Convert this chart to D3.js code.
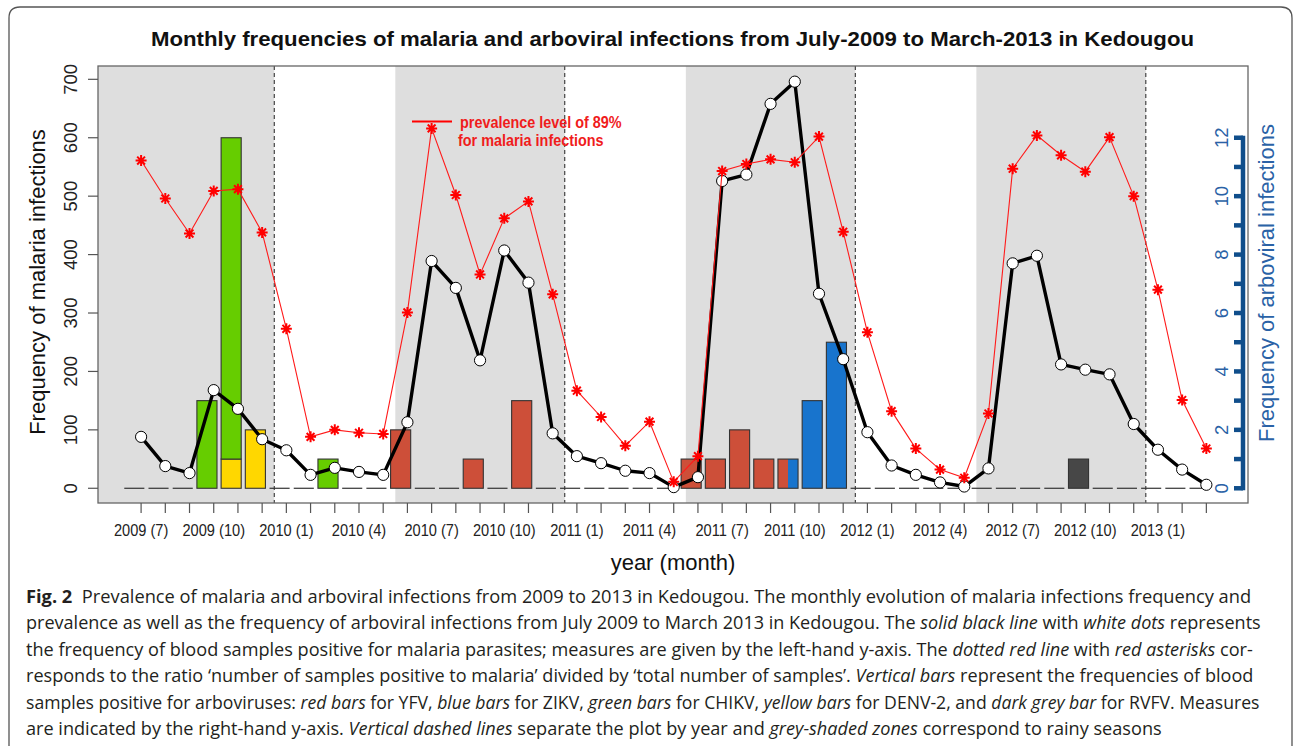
<!DOCTYPE html>
<html>
<head>
<meta charset="utf-8">
<script src="https://cdn.jsdelivr.net/npm/d3@7/dist/d3.min.js"></script>
<style>
  body { margin: 0; background: #fff; }
  svg { display: block; }
</style>
</head>
<body>
<svg id="chart" width="1295" height="746"></svg>
<script>
// ---- data ----
const months = [
  "2009 (7)", "2009 (8)", "2009 (9)", "2009 (10)", "2009 (11)", "2009 (12)",
  "2010 (1)", "2010 (2)", "2010 (3)", "2010 (4)", "2010 (5)", "2010 (6)",
  "2010 (7)", "2010 (8)", "2010 (9)", "2010 (10)", "2010 (11)", "2010 (12)",
  "2011 (1)", "2011 (2)", "2011 (3)", "2011 (4)", "2011 (5)", "2011 (6)",
  "2011 (7)", "2011 (8)", "2011 (9)", "2011 (10)", "2011 (11)", "2011 (12)",
  "2012 (1)", "2012 (2)", "2012 (3)", "2012 (4)", "2012 (5)", "2012 (6)",
  "2012 (7)", "2012 (8)", "2012 (9)", "2012 (10)", "2012 (11)", "2012 (12)",
  "2013 (1)", "2013 (2)", "2013 (3)"
];
const tickLabels = ["2009 (7)", "2009 (10)", "2010 (1)", "2010 (4)", "2010 (7)", "2010 (10)",
  "2011 (1)", "2011 (4)", "2011 (7)", "2011 (10)", "2012 (1)", "2012 (4)", "2012 (7)",
  "2012 (10)", "2013 (1)"];

// malaria positive samples (left axis)
const malaria = [88, 38, 26, 168, 136, 84, 65, 23, 35, 28, 23, 113, 389, 343, 219, 407, 352, 94,
  55, 43, 30, 26, 2, 19, 526, 537, 658, 696, 333, 221, 96, 39, 23, 10, 3, 34,
  385, 398, 212, 203, 195, 110, 66, 32, 6];
// prevalence curve (red asterisks), expressed on the left-axis scale as drawn
const prevalence = [561, 496, 436, 509, 512, 438, 273, 88, 100, 95, 93, 301, 616, 502, 366, 462, 491, 332,
  167, 122, 73, 114, 11, 55, 543, 555, 563, 558, 602, 439, 267, 132, 68, 32, 18, 128,
  547, 604, 570, 542, 601, 500, 340, 151, 68];

// arbovirus positives per month (right axis)
const yfv   = [0,0,0,0,0,0, 0,0,0,0,0,2, 0,0,1,0,3,0, 0,0,0,0,0,1, 1,2,1,1,0,0, 0,0,0,0,0,0, 0,0,0,0,0,0, 0,0,0];
const zikv  = [0,0,0,0,0,0, 0,0,0,0,0,0, 0,0,0,0,0,0, 0,0,0,0,0,0, 0,0,0,1,3,5, 0,0,0,0,0,0, 0,0,0,0,0,0, 0,0,0];
const chikv = [0,0,0,3,11,0, 0,0,1,0,0,0, 0,0,0,0,0,0, 0,0,0,0,0,0, 0,0,0,0,0,0, 0,0,0,0,0,0, 0,0,0,0,0,0, 0,0,0];
const denv2 = [0,0,0,0,1,2, 0,0,0,0,0,0, 0,0,0,0,0,0, 0,0,0,0,0,0, 0,0,0,0,0,0, 0,0,0,0,0,0, 0,0,0,0,0,0, 0,0,0];
const rvfv  = [0,0,0,0,0,0, 0,0,0,0,0,0, 0,0,0,0,0,0, 0,0,0,0,0,0, 0,0,0,0,0,0, 0,0,0,0,0,0, 0,0,0,1,0,0, 0,0,0];

// rainy seasons (first / last month shaded)
const rainySeasons = [["2009 (5)", "2009 (12)"], ["2010 (6)", "2010 (12)"], ["2011 (6)", "2011 (12)"], ["2012 (6)", "2012 (12)"]];

const leftTicks = [0, 100, 200, 300, 400, 500, 600, 700];
const rightTicks = [0, 2, 4, 6, 8, 10, 12];

const captionLines = [
  [["b", "Fig. 2"], ["n", "\u00a0 Prevalence of malaria and arboviral infections from 2009 to 2013 in Kedougou. The monthly evolution of malaria infections frequency and"]],
  [["n", "prevalence as well as the frequency of arboviral infections from July 2009 to March 2013 in Kedougou. The "], ["i", "solid black line"], ["n", " with "], ["i", "white dots"], ["n", " represents"]],
  [["n", "the frequency of blood samples positive for malaria parasites; measures are given by the left-hand y-axis. The "], ["i", "dotted red line"], ["n", " with "], ["i", "red asterisks"], ["n", " cor-"]],
  [["n", "responds to the ratio \u2018number of samples positive to malaria\u2019 divided by \u2018total number of samples\u2019. "], ["i", "Vertical bars"], ["n", " represent the frequencies of blood"]],
  [["n", "samples positive for arboviruses: "], ["i", "red bars"], ["n", " for YFV, "], ["i", "blue bars"], ["n", " for ZIKV, "], ["i", "green bars"], ["n", " for CHIKV, "], ["i", "yellow bars"], ["n", " for DENV-2, and "], ["i", "dark grey bar"], ["n", " for RVFV. Measures"]],
  [["n", "are indicated by the right-hand y-axis. "], ["i", "Vertical dashed lines"], ["n", " separate the plot by year and "], ["i", "grey-shaded zones"], ["n", " correspond to rainy seasons"]]
];
const captionRight = [1252, 1262, 1254, 1254, 1261, 1163];

// ---- layout ----
const svg = d3.select("#chart");
const box = {left: 98, right: 1248, top: 66, bottom: 503};
const FONT = "'Liberation Sans', Arial, sans-serif";

const monthIndex = m => {
  const [y, mo] = m.match(/\d+/g).map(Number);
  return (y - 2009) * 12 + (mo - 7);
};

const x = d3.scaleLinear().domain([-1.78, 45.72]).range([box.left, box.right]);
const yL = d3.scaleLinear().domain([-25.2, 722.8]).range([box.bottom, box.top]);
const yR = d3.scaleLinear().domain([-25.2 / 50, 722.8 / 50]).range([box.bottom, box.top]);

// outer figure frame
svg.append("path")
  .attr("d", "M9,746 V18 Q9,7 20,7 H1281 Q1292,7 1292,18 V746")
  .attr("fill", "none").attr("stroke", "#555").attr("stroke-width", 1.3);

const plot = svg.append("g");
svg.append("clipPath").attr("id", "clip")
  .append("rect").attr("x", box.left).attr("y", box.top)
  .attr("width", box.right - box.left).attr("height", box.bottom - box.top);

const inner = plot.append("g").attr("clip-path", "url(#clip)");

// rainy season shading
inner.selectAll("rect.rain")
  .data(rainySeasons)
  .join("rect")
  .attr("class", "rain")
  .attr("x", d => x(monthIndex(d[0]) - 0.5))
  .attr("width", d => x(monthIndex(d[1]) + 0.5) - x(monthIndex(d[0]) - 0.5))
  .attr("y", box.top).attr("height", box.bottom - box.top)
  .attr("fill", "#dedede");

// year separators
const yearStarts = months.map((m, i) => m.endsWith("(1)") ? i - 0.5 : null).filter(d => d !== null);
inner.selectAll("line.year")
  .data(yearStarts)
  .join("line")
  .attr("x1", d => x(d)).attr("x2", d => x(d))
  .attr("y1", box.top).attr("y2", box.bottom)
  .attr("stroke", "#222").attr("stroke-width", 1).attr("stroke-dasharray", "4,3");

// arbovirus bars
const barOffset = -0.28, barW = 0.83;
const colors = {yfv: "#cd4f39", zikv: "#1874cd", chikv: "#66cd00", denv2: "#ffd700", rvfv: "#474747"};
const segments = [];
const emptyMonths = [];
months.forEach((m, i) => {
  const cx = x(i + barOffset), w = x(barW) - x(0), left = cx - w / 2;
  if (yfv[i] > 0 && zikv[i] > 0) {
    // shared month: YFV and ZIKV side by side within one bar
    segments.push({x: left, w: w / 2, y0: 0, y1: yfv[i], c: colors.yfv, stroke: false});
    segments.push({x: left + w / 2, w: w / 2, y0: 0, y1: zikv[i], c: colors.zikv, stroke: false});
    segments.push({x: left, w: w, y0: 0, y1: Math.max(yfv[i], zikv[i]), c: "none", stroke: true});
    return;
  }
  let base = 0;
  [["denv2", denv2], ["chikv", chikv], ["yfv", yfv], ["zikv", zikv], ["rvfv", rvfv]].forEach(([k, arr]) => {
    if (arr[i] > 0) {
      segments.push({x: left, w: w, y0: base, y1: base + arr[i], c: colors[k], stroke: true});
      base += arr[i];
    }
  });
  if (base === 0) emptyMonths.push({x: left, w: w});
});
// zero-height bars show as flat strokes on the baseline
inner.selectAll("line.zero")
  .data(emptyMonths)
  .join("line")
  .attr("class", "zero")
  .attr("x1", d => d.x).attr("x2", d => d.x + d.w)
  .attr("y1", yR(0)).attr("y2", yR(0))
  .attr("stroke", "#333").attr("stroke-width", 1.2);
inner.selectAll("rect.bar")
  .data(segments)
  .join("rect")
  .attr("class", "bar")
  .attr("x", d => d.x).attr("width", d => d.w)
  .attr("y", d => yR(d.y1)).attr("height", d => yR(d.y0) - yR(d.y1))
  .attr("fill", d => d.c)
  .attr("stroke", d => d.stroke ? "#333" : "none")
  .attr("stroke-width", 1.1);

// malaria frequency (black line, white dots)
inner.append("path")
  .datum(malaria)
  .attr("d", d3.line().x((d, i) => x(i)).y(d => yL(d)))
  .attr("fill", "none").attr("stroke", "#000").attr("stroke-width", 3.4)
  .attr("stroke-linejoin", "round");
inner.selectAll("circle.dot")
  .data(malaria)
  .join("circle")
  .attr("class", "dot")
  .attr("cx", (d, i) => x(i)).attr("cy", d => yL(d)).attr("r", 5.6)
  .attr("fill", "#fff").attr("stroke", "#000").attr("stroke-width", 1);

// prevalence (red line, asterisks)
inner.append("path")
  .datum(prevalence)
  .attr("d", d3.line().x((d, i) => x(i)).y(d => yL(d)))
  .attr("fill", "none").attr("stroke", "#ff1a1a").attr("stroke-width", 1.1);
const star = "M-5.5,0H5.5M0,-5.5V5.5M-3.9,-3.9L3.9,3.9M-3.9,3.9L3.9,-3.9";
inner.selectAll("path.star")
  .data(prevalence)
  .join("path")
  .attr("class", "star")
  .attr("transform", (d, i) => `translate(${x(i)},${yL(d)})`)
  .attr("d", star)
  .attr("stroke", "#ff0000").attr("stroke-width", 2);

// legend
plot.append("line")
  .attr("x1", 412).attr("x2", 452).attr("y1", 121.5).attr("y2", 121.5)
  .attr("stroke", "#ff0000").attr("stroke-width", 2);
[["prevalence level of 89%", 460, 127.5], ["for malaria infections", 458, 146]].forEach(([t, tx, ty]) => {
  plot.append("text")
    .attr("transform", `translate(${tx},${ty}) scale(0.9,1)`)
    .attr("font-family", FONT).attr("font-weight", "bold").attr("font-size", 16)
    .attr("fill", "#f01c1c").text(t);
});

// plot box
plot.append("rect")
  .attr("x", box.left).attr("y", box.top)
  .attr("width", box.right - box.left).attr("height", box.bottom - box.top)
  .attr("fill", "none").attr("stroke", "#666").attr("stroke-width", 1.3);

// left axis
const gL = plot.append("g");
gL.selectAll("line").data(leftTicks).join("line")
  .attr("x1", box.left - 10).attr("x2", box.left)
  .attr("y1", d => yL(d)).attr("y2", d => yL(d))
  .attr("stroke", "#555").attr("stroke-width", 1.2);
gL.selectAll("text").data(leftTicks).join("text")
  .attr("transform", d => `translate(77,${yL(d)}) rotate(-90)`)
  .attr("text-anchor", "middle").attr("font-family", FONT).attr("font-size", 18.5)
  .attr("fill", "#222").text(d => d);
plot.append("text")
  .attr("transform", `translate(45,282) rotate(-90)`)
  .attr("text-anchor", "middle").attr("font-family", FONT).attr("font-size", 22)
  .attr("fill", "#111").text("Frequency of malaria infections");

// bottom axis
const gB = plot.append("g");
gB.selectAll("line").data(months).join("line")
  .attr("x1", (d, i) => x(i)).attr("x2", (d, i) => x(i))
  .attr("y1", box.bottom).attr("y2", box.bottom + 10)
  .attr("stroke", "#555").attr("stroke-width", 1.2);
gB.selectAll("text").data(tickLabels).join("text")
  .attr("transform", d => `translate(${x(months.indexOf(d))},536) scale(0.86,1)`)
  .attr("text-anchor", "middle").attr("font-family", FONT).attr("font-size", 17)
  .attr("fill", "#222").text(d => d);
plot.append("text")
  .attr("x", 673).attr("y", 570)
  .attr("text-anchor", "middle").attr("font-family", FONT).attr("font-size", 22)
  .attr("fill", "#111").text("year (month)");

// right axis
const blue = "#104e8b";
const axisR = 1243;
plot.append("line")
  .attr("x1", axisR).attr("x2", axisR).attr("y1", yR(0) + 2).attr("y2", yR(12) - 2)
  .attr("stroke", blue).attr("stroke-width", 4.5);
plot.selectAll("line.rtick").data(d3.range(0, 13)).join("line")
  .attr("class", "rtick")
  .attr("x1", axisR - 9).attr("x2", axisR)
  .attr("y1", d => yR(d)).attr("y2", d => yR(d))
  .attr("stroke", blue).attr("stroke-width", 4.5);
plot.selectAll("text.rlab").data(rightTicks).join("text")
  .attr("class", "rlab")
  .attr("transform", d => `translate(1228,${yR(d)}) rotate(-90)`)
  .attr("text-anchor", "middle").attr("font-family", FONT).attr("font-size", 18.5)
  .attr("fill", "#2a62a6").text(d => d);
plot.append("text")
  .attr("transform", `translate(1274,283) rotate(-90)`)
  .attr("text-anchor", "middle").attr("font-family", FONT).attr("font-size", 22)
  .attr("fill", "#2a62a6").text("Frequency of arboviral infections");

// title
const title = svg.append("text")
  .attr("x", 151).attr("y", 45.5)
  .attr("font-family", FONT).attr("font-weight", "bold").attr("font-size", 21)
  .attr("fill", "#111")
  .text("Monthly frequencies of malaria and arboviral infections from July-2009 to March-2013 in Kedougou");
title.attr("textLength", 1043).attr("lengthAdjust", "spacingAndGlyphs");

// caption
const capX = 26;
captionLines.forEach((parts, k) => {
  const t = svg.append("text")
    .attr("font-family", "'Open Sans', 'Noto Sans', sans-serif").attr("font-size", 18)
    .attr("fill", "#231f20");
  parts.forEach(([style, s]) => {
    t.append("tspan")
      .attr("font-weight", style === "b" ? "bold" : null)
      .attr("font-style", style === "i" ? "italic" : null)
      .text(s);
  });
  const w = t.node().getComputedTextLength();
  const sx = (captionRight[k] - capX) / w;
  t.attr("transform", `translate(${capX},${603 + k * 26.4}) scale(${sx},1)`);
});
</script>
</body>
</html>
